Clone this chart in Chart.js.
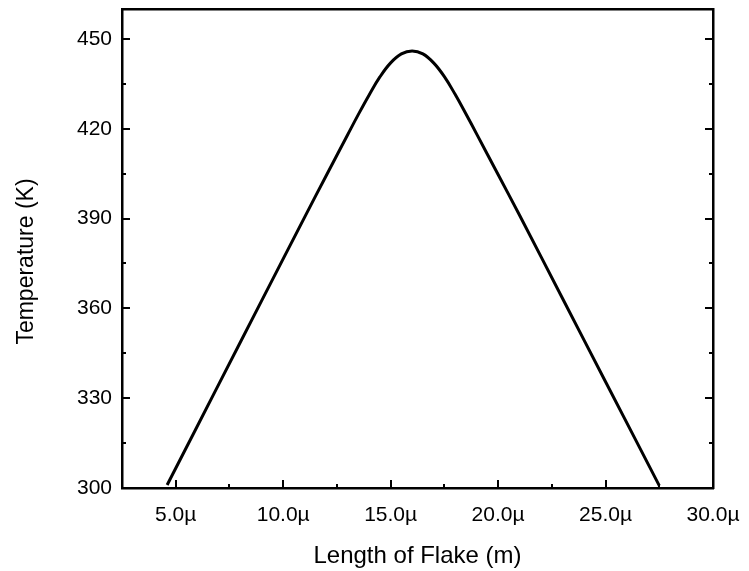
<!DOCTYPE html>
<html>
<head>
<meta charset="utf-8">
<script src="https://cdn.jsdelivr.net/npm/chart.js@4.4.1/dist/chart.umd.min.js"></script>
<style>
  html, body { margin: 0; padding: 0; background: #fff; }
  #wrap { width: 749px; height: 571px; }
</style>
</head>
<body>
<div id="wrap"><canvas id="flakeChart"></canvas></div>
<script>
// flake length (micrometres) vs temperature (K)
const lengthUm = [4.6, 7, 9, 11, 12, 13, 13.5, 14, 14.5, 15, 15.5, 16, 16.5, 17, 17.5, 18, 18.5, 19, 20, 21, 23, 25, 27.5];
const temperatureK = [301.0, 334.6, 362.6, 390.5, 404.3, 418.0, 424.8, 431.3, 437.3, 442.0, 445.0, 446, 445.0, 442.0, 437.4, 431.5, 425.0, 418.3, 404.7, 391.1, 363.3, 335.5, 300.8];

const xTicks = [5, 10, 15, 20, 25, 30];
const xMinor = [7.5, 12.5, 17.5, 22.5, 27.5];
const yTicks = [300, 330, 360, 390, 420, 450];
const yMinor = [315, 345, 375, 405, 435];
const xRange = [2.5, 30];
const yRange = [300, 460];

const FONT = "'Liberation Sans', Arial, sans-serif";
const Y_TITLE = 'Temperature (K)';

// ticks point into the plot, like the original graph
const inwardTicks = {
    id: 'inwardTicks',
    afterDraw(chart) {
        const { ctx, chartArea: a, scales } = chart;
        ctx.save();
        ctx.strokeStyle = '#000';
        ctx.lineWidth = 2;
        ctx.beginPath();
        const xs = (vals, len) => vals.forEach(v => {
            const px = Math.round(scales.x.getPixelForValue(v));
            if (px <= a.left + 1 || px >= a.right - 1) return;
            ctx.moveTo(px, a.bottom); ctx.lineTo(px, a.bottom - len);
        });
        const ys = (vals, len) => vals.forEach(v => {
            const py = Math.round(scales.y.getPixelForValue(v));
            if (py <= a.top + 1 || py >= a.bottom - 1) return;
            ctx.moveTo(a.left, py); ctx.lineTo(a.left + len, py);
            ctx.moveTo(a.right, py); ctx.lineTo(a.right - len, py);
        });
        xs(xTicks, 8); xs(xMinor, 4);
        ys(yTicks, 8); ys(yMinor, 4);
        ctx.stroke();
        ctx.restore();
    }
};

// y title sits a little below the middle of the axis
const yTitle = {
    id: 'yTitle',
    afterDraw(chart) {
        const { ctx, chartArea: a } = chart;
        ctx.save();
        ctx.translate(27, (a.top + a.bottom) / 2 + 13);
        ctx.rotate(-Math.PI / 2);
        ctx.font = '23px ' + FONT;
        ctx.fillStyle = '#000';
        ctx.textAlign = 'center';
        ctx.textBaseline = 'middle';
        ctx.fillText(Y_TITLE, 0, 0);
        ctx.restore();
    }
};

const border = { display: true, color: '#000', width: 2.5 };
const noGrid = { display: false, drawTicks: false, drawOnChartArea: false };

// fixed box sizes so the plot frame lands where it should
const fixSize = (w, h) => s => {
    if (w !== null) s.width = w;
    if (h !== null) s.height = h;
    s.paddingTop = 0; s.paddingBottom = 0; s.paddingLeft = 0; s.paddingRight = 0;
};

new Chart(document.getElementById('flakeChart'), {
    type: 'scatter',
    data: {
        datasets: [{
            data: lengthUm.map((x, i) => ({ x: x, y: temperatureK[i] })),
            showLine: true,
            borderColor: '#000',
            borderWidth: 3,
            pointRadius: 0,
            tension: 0.4,
            xAxisID: 'x',
            yAxisID: 'y'
        }]
    },
    options: {
        responsive: true, maintainAspectRatio: false, animation: false,
        layout: { padding: 0 },
        plugins: { legend: { display: false }, tooltip: { enabled: false } },
        scales: {
            x: {
                type: 'linear', position: 'bottom', min: xRange[0], max: xRange[1],
                afterBuildTicks: s => { s.ticks = xTicks.map(v => ({ value: v })); },
                afterFit: fixSize(null, 83),
                grid: noGrid, border: border,
                ticks: { color: '#000', padding: 15, maxRotation: 0, font: { family: FONT, size: 21 },
                         callback: v => v.toFixed(1) + 'µ' },
                title: { display: true, text: 'Length of Flake (m)', color: '#000',
                         font: { family: FONT, size: 24 }, padding: { top: 0, bottom: 0 } }
            },
            x2: {
                type: 'linear', position: 'top', min: xRange[0], max: xRange[1],
                afterFit: fixSize(null, 9),
                grid: noGrid, border: border, ticks: { display: false }
            },
            y: {
                type: 'linear', position: 'left', min: yRange[0], max: yRange[1],
                afterBuildTicks: s => { s.ticks = yTicks.map(v => ({ value: v })); },
                afterFit: fixSize(122, null),
                grid: noGrid, border: border,
                ticks: { color: '#000', padding: 10, font: { family: FONT, size: 21 } }
            },
            y2: {
                type: 'linear', position: 'right', min: yRange[0], max: yRange[1],
                afterFit: fixSize(36, null),
                grid: noGrid, border: border, ticks: { display: false }
            }
        }
    },
    plugins: [inwardTicks, yTitle]
});
</script>
</body>
</html>
